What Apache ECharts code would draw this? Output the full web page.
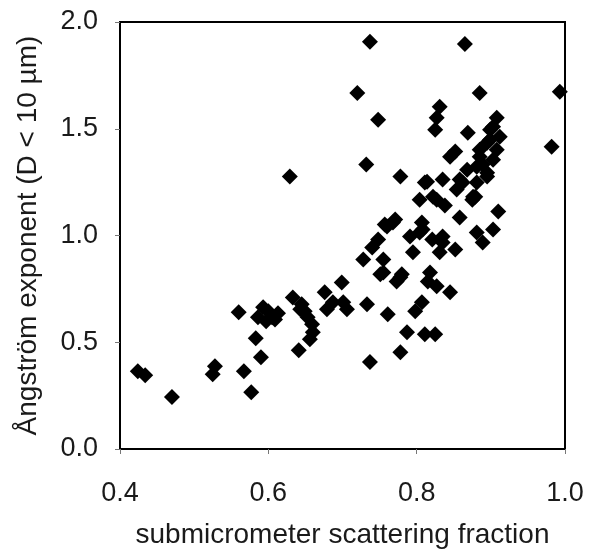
<!DOCTYPE html>
<html>
<head>
<meta charset="utf-8">
<script src="https://cdn.jsdelivr.net/npm/echarts@6/dist/echarts.min.js"></script>
<style>
  html, body { margin: 0; padding: 0; background: #fff; }
</style>
</head>
<body>
<div id="main" style="width: 589px;height: 554px;"></div>
<script>
  // submicrometer scattering fraction
  var fraction = [
    0.424, 0.434, 0.470, 0.528, 0.525, 0.567, 0.577, 0.583, 0.590, 0.560,
    0.593, 0.586, 0.600, 0.605, 0.613, 0.597, 0.609, 0.641, 0.633, 0.645,
    0.649, 0.653, 0.659, 0.660, 0.656, 0.643, 0.676, 0.699, 0.679, 0.687,
    0.701, 0.706, 0.733, 0.761, 0.787, 0.778, 0.737, 0.798, 0.807, 0.811,
    0.825, 0.728, 0.740, 0.748, 0.757, 0.771, 0.751, 0.755, 0.778, 0.760,
    0.795, 0.791, 0.807, 0.804, 0.755, 0.780, 0.773, 0.818, 0.815, 0.827,
    0.845, 0.835, 0.831, 0.852, 0.881, 0.889, 0.903, 0.910, 0.858, 0.835,
    0.804, 0.827, 0.838, 0.811, 0.835, 0.778, 0.854, 0.875, 0.868, 0.895,
    0.858, 0.881, 0.885, 0.852, 0.845, 0.895, 0.908, 0.912, 0.908, 0.903,
    0.869, 0.831, 0.827, 0.825, 0.899, 0.889, 0.903, 0.737, 0.865, 0.720,
    0.885, 0.993, 0.748, 0.982, 0.732, 0.629, 0.821, 0.822, 0.879, 0.814,
    0.768, 0.808, 0.885, 0.881, 0.862, 0.895, 0.876, 0.899
  ]
  // Angstrom exponent (D < 10 um)
  var angstrom = [
    0.364, 0.346, 0.243, 0.388, 0.350, 0.364, 0.266, 0.519, 0.430, 0.640,
    0.664, 0.617, 0.645, 0.617, 0.636, 0.598, 0.607, 0.463, 0.710, 0.678,
    0.645, 0.617, 0.584, 0.547, 0.514, 0.654, 0.734, 0.780, 0.654, 0.687,
    0.687, 0.654, 0.678, 0.631, 0.547, 0.453, 0.407, 0.645, 0.687, 0.537,
    0.537, 0.888, 0.944, 0.981, 1.051, 1.075, 0.818, 0.888, 0.804, 1.042,
    0.921, 0.995, 1.061, 1.014, 0.827, 0.818, 0.785, 0.827, 0.785, 0.762,
    0.734, 0.967, 0.921, 0.935, 1.014, 0.967, 1.028, 1.112, 1.084, 0.995,
    1.168, 1.168, 1.140, 1.248, 1.262, 1.276, 1.215, 1.168, 1.308, 1.294,
    1.262, 1.248, 1.369, 1.393, 1.369, 1.435, 1.402, 1.463, 1.551, 1.509,
    1.481, 1.603, 1.551, 1.495, 1.449, 1.332, 1.355, 1.907, 1.897, 1.668,
    1.668, 1.673, 1.542, 1.416, 1.332, 1.276, 0.981, 1.182, 1.182, 1.252,
    1.061, 1.028, 1.402, 1.322, 1.248, 1.276, 1.182, 1.495
  ]
  var xTicks = ['0.4', '0.6', '0.8', '1.0']
  var yTicks = ['0.0', '0.5', '1.0', '1.5', '2.0']

  var points = fraction.map(function (f, i) { return [f, angstrom[i]] })
  var font = '"Liberation Sans", Arial, Helvetica, sans-serif'

  var chart = echarts.init(document.getElementById('main'))
  chart.setOption({
    backgroundColor: '#fff',
    animation: false,
    grid: {
      left: 120,
      top: 22,
      right: 24,
      bottom: 104,
      show: true,
      borderColor: '#000',
      borderWidth: 2
    },
    xAxis: {
      type: 'value',
      min: Number(xTicks[0]),
      max: Number(xTicks[xTicks.length - 1]),
      interval: 0.2,
      name: 'submicrometer scattering fraction',
      nameLocation: 'middle',
      nameGap: 72,
      nameTextStyle: { fontFamily: font, fontSize: 28, color: '#1a1a1a' },
      axisLine: { lineStyle: { color: '#000', width: 2 } },
      axisTick: { inside: false, length: 5, lineStyle: { color: '#777' } },
      axisLabel: {
        margin: 31, fontFamily: font, fontSize: 27, color: '#1a1a1a',
        formatter: function (v) { return v.toFixed(1) }
      },
      splitLine: { show: false }
    },
    yAxis: {
      type: 'value',
      min: Number(yTicks[0]),
      max: Number(yTicks[yTicks.length - 1]),
      interval: 0.5,
      name: 'Ångström exponent (D < 10 µm)',
      nameLocation: 'middle',
      nameGap: 78,
      nameTextStyle: { fontFamily: font, fontSize: 28, color: '#1a1a1a' },
      axisLine: { lineStyle: { color: '#000', width: 2 } },
      axisTick: { inside: false, length: 5, lineStyle: { color: '#777' } },
      axisLabel: {
        margin: 22, fontFamily: font, fontSize: 27, color: '#1a1a1a',
        formatter: function (v) { return v.toFixed(1) }
      },
      splitLine: { show: false }
    },
    series: [{
      type: 'scatter',
      symbol: 'diamond',
      symbolSize: 16,
      itemStyle: { color: '#000', opacity: 1 },
      data: points
    }]
  })
</script>
</body>
</html>
